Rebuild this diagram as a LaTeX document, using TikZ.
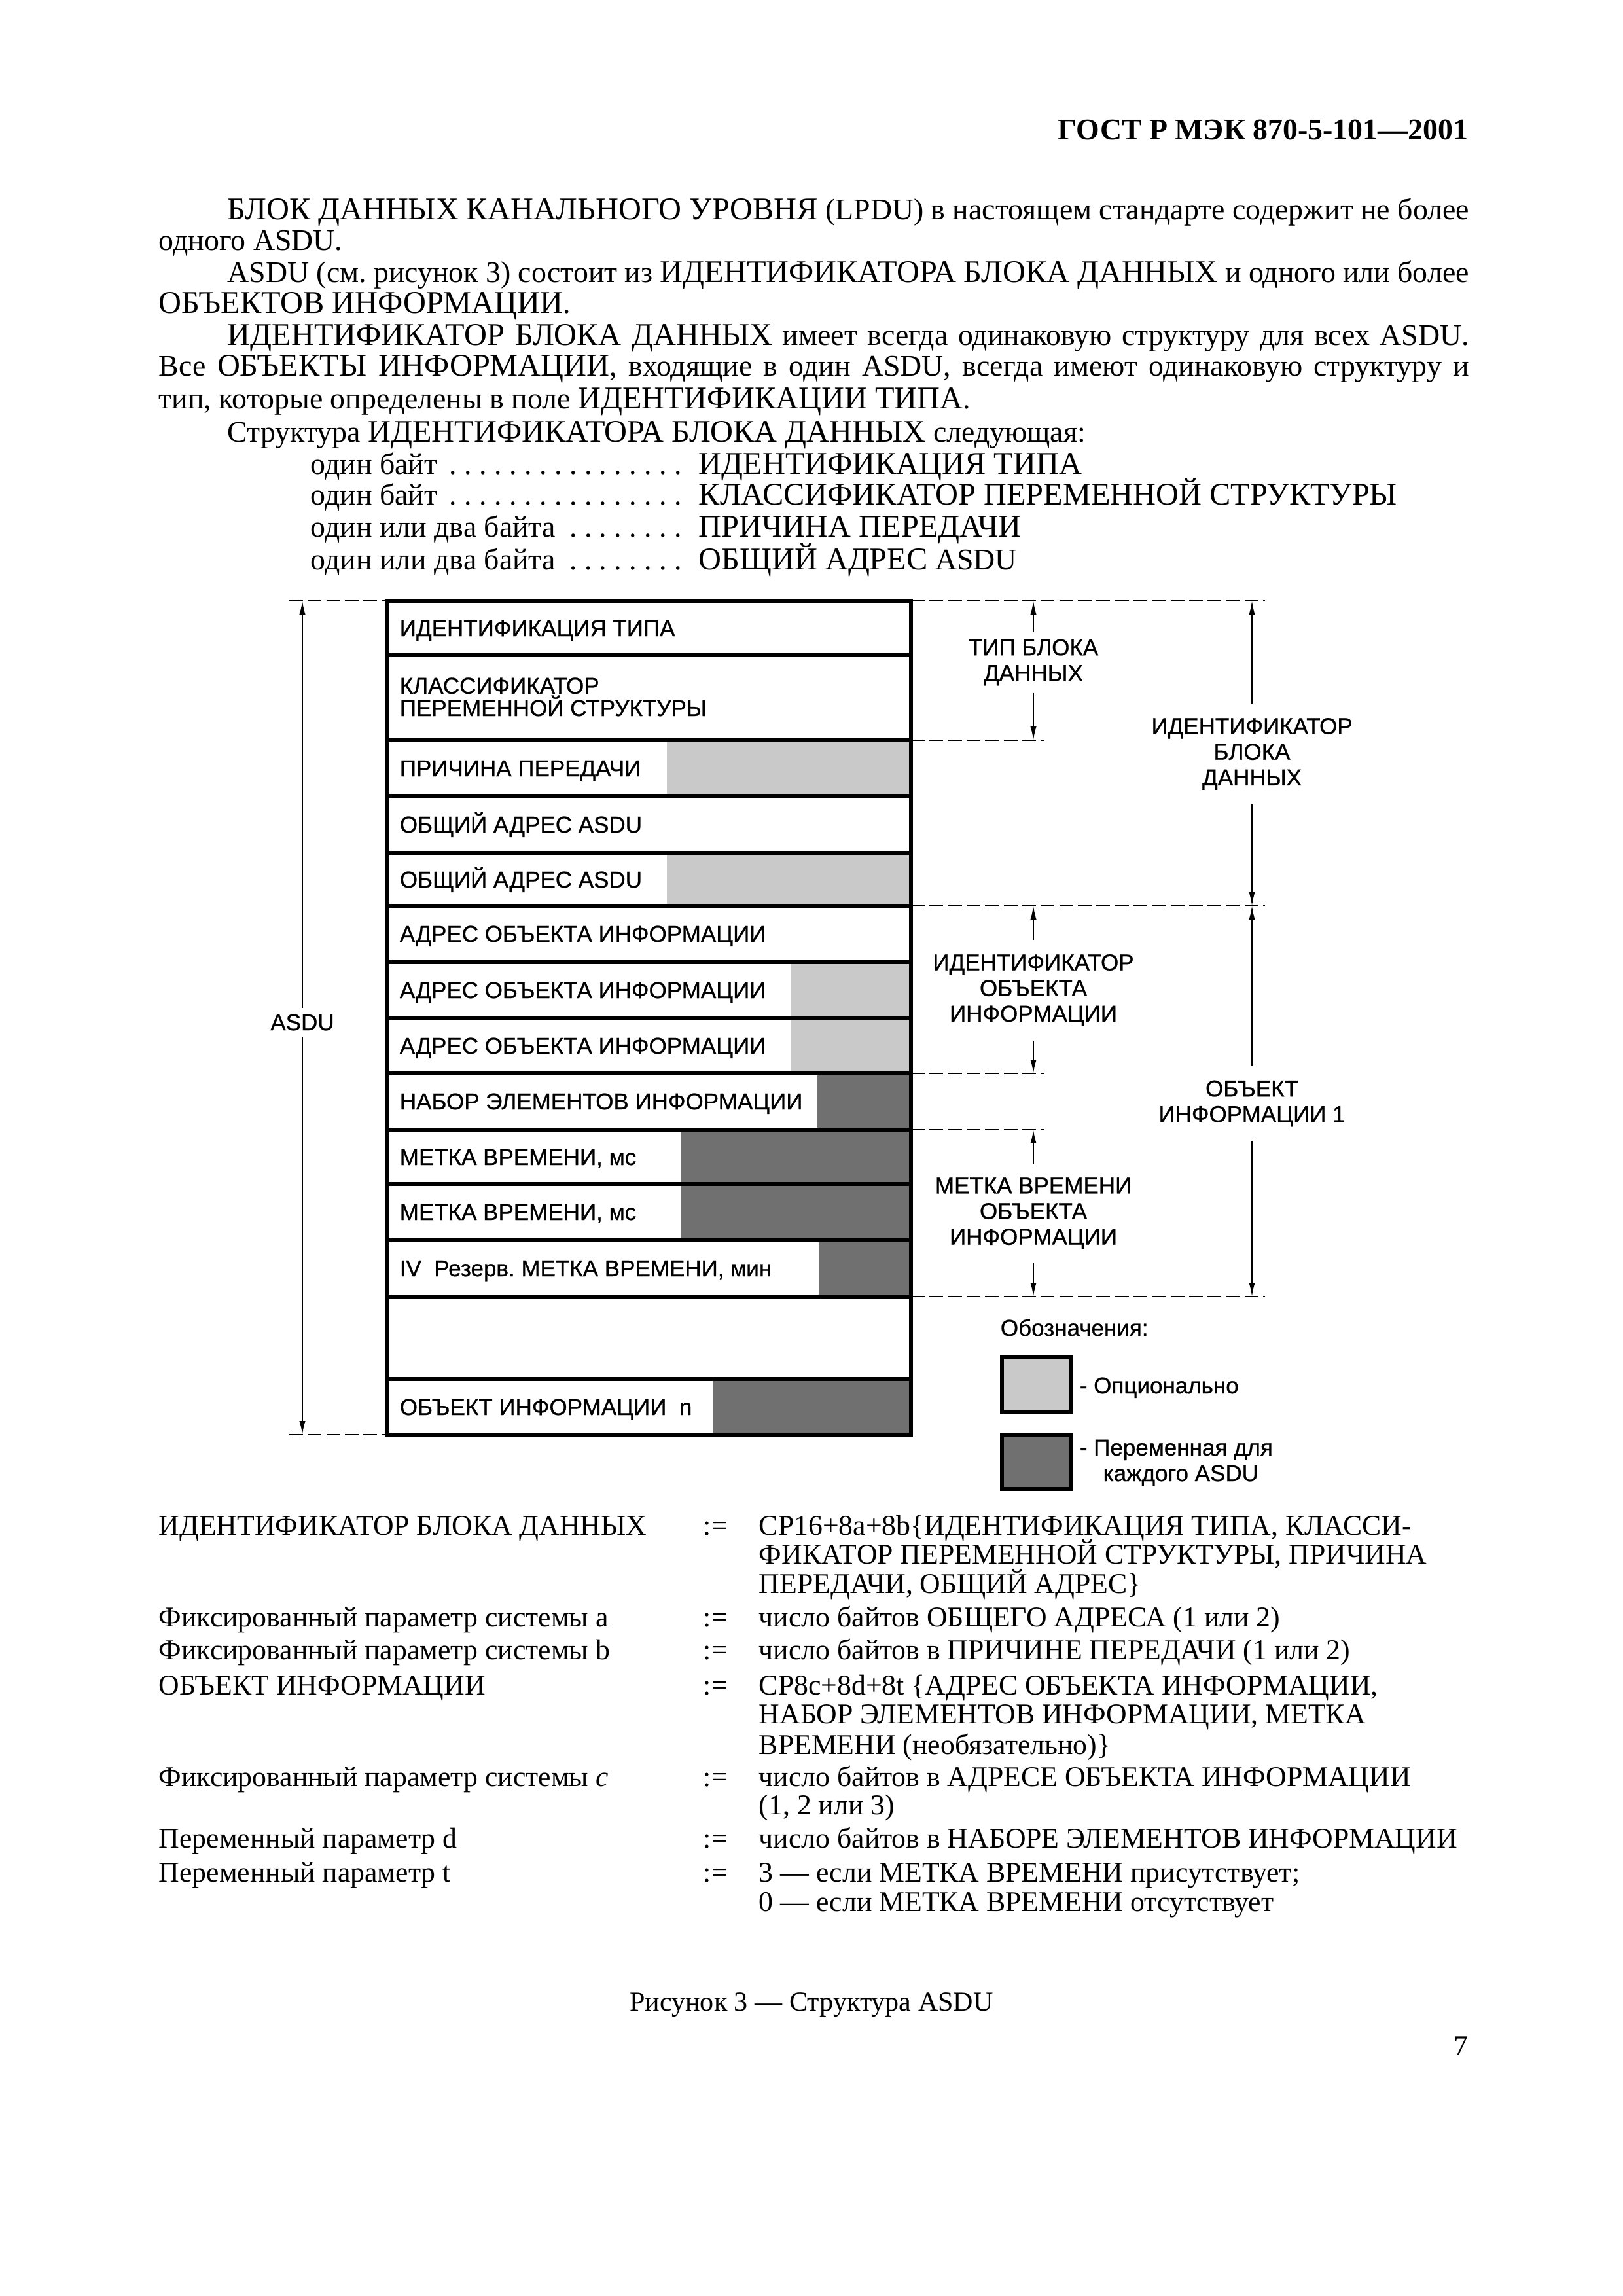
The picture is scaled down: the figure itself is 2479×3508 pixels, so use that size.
\documentclass[tikz,border=0pt]{standalone}
\usepackage{fontspec}
\setmainfont{Liberation Serif}
\newfontfamily\arialf[FakeBold=0.7]{Liberation Sans}
\usetikzlibrary{arrows.meta}
\definecolor{optgray}{gray}{0.79}
\definecolor{vargray}{gray}{0.44}
\newcommand{\dotlead}[1]{\makebox[138pt][l]{#1\leaders\hbox to 0.5em{\hss.\hss}\hfill\mbox{}}}
\newcommand{\CP}[1]{{\fontsize{11.6}{13}\selectfont #1}}
\frenchspacing
\begin{document}
\begin{tikzpicture}[x=0.24pt,y=-0.24pt,
  body/.style={anchor=base west, inner sep=0pt, font=\fontsize{11}{13}\selectfont},
  btxt/.style={anchor=base west, inner sep=0pt, font=\fontsize{10.5}{12}\selectfont},
  boxtxt/.style={anchor=base west, inner sep=0pt, font=\arialf\fontsize{8.4}{8.2}\selectfont, align=left},
  lbl/.style={font=\arialf\fontsize{8.4}{9.4}\selectfont, align=center, inner xsep=1pt, inner ysep=2.5pt},
  frame/.style={line width=1.45pt},
  dashln/.style={dash pattern=on 5pt off 1.8pt, line width=0.6pt},
  dimarrow/.style={-{Latex[length=5pt,width=2.2pt]}, line width=0.45pt},
  optfill/.style={fill=optgray},
  varfill/.style={fill=vargray}]
\useasboundingbox[fill=white] (0,0) rectangle (2479,3508);

% header
\node[anchor=base east, inner sep=0pt, font=\bfseries\fontsize{11}{13}\selectfont] (hdr) at (2244,214) {ГОСТ Р МЭК 870-5-101—2001};

% body text
\node[body] (l1) at (347,336) {\makebox[455.3pt][s]{\CP{БЛОК ДАННЫХ КАНАЛЬНОГО УРОВНЯ} (LPDU) в настоящем стандарте содержит не более}};
\node[body] (l2) at (242,383) {одного ASDU.};
\node[body] (l3) at (347,432) {\makebox[455.3pt][s]{ASDU (см. рисунок 3) состоит из \CP{ИДЕНТИФИКАТОРА БЛОКА ДАННЫХ} и одного или более}};
\node[body] (l4) at (242,479) {\CP{ОБЪЕКТОВ ИНФОРМАЦИИ}.};
\node[body] (l5) at (347,528) {\makebox[455.3pt][s]{\CP{ИДЕНТИФИКАТОР БЛОКА ДАННЫХ} имеет всегда одинаковую структуру для всех ASDU.}};
\node[body] (l6) at (242,575) {\makebox[480.5pt][s]{Все \CP{ОБЪЕКТЫ ИНФОРМАЦИИ}, входящие в один ASDU, всегда имеют одинаковую структуру и}};
\node[body] (l7) at (242,625) {тип, которые определены в поле \CP{ИДЕНТИФИКАЦИИ ТИПА}.};
\node[body] (l8) at (347,676) {Структура \CP{ИДЕНТИФИКАТОРА БЛОКА ДАННЫХ} следующая:};
\node[body] (l9a) at (474,725) {\dotlead{один байт}};
\node[body] (l9b) at (1067,725) {\CP{ИДЕНТИФИКАЦИЯ ТИПА}};
\node[body] (l10a) at (474,772) {\dotlead{один байт}};
\node[body] (l10b) at (1067,772) {\CP{КЛАССИФИКАТОР ПЕРЕМЕННОЙ СТРУКТУРЫ}};
\node[body] (l11a) at (474,821) {\dotlead{один или два байта}};
\node[body] (l11b) at (1067,821) {\CP{ПРИЧИНА ПЕРЕДАЧИ}};
\node[body] (l12a) at (474,871) {\dotlead{один или два байта}};
\node[body] (l12b) at (1067,871) {\CP{ОБЩИЙ АДРЕС} ASDU};

% shaded parts
\fill[optfill] (1019,1131) rectangle (1392,1216);
\fill[optfill] (1019,1303) rectangle (1392,1384);
\fill[optfill] (1208,1470) rectangle (1392,1556);
\fill[optfill] (1208,1556) rectangle (1392,1640);
\fill[varfill] (1249,1640) rectangle (1392,1726);
\fill[varfill] (1040,1726) rectangle (1392,1809);
\fill[varfill] (1040,1809) rectangle (1392,1895);
\fill[varfill] (1251,1895) rectangle (1392,1981);
\fill[varfill] (1089,2107) rectangle (1392,2192);

% frame
\draw[frame] (591,918) rectangle (1392,2192);
\foreach \yy in {1001,1131,1216,1303,1384,1470,1556,1640,1726,1809,1895,1981,2107}
  \draw[frame] (591,\yy) -- (1392,\yy);

% row texts
\node[boxtxt] (t1) at (610,972) {ИДЕНТИФИКАЦИЯ ТИПА};
\node[boxtxt] (t2) at (610,1094) {КЛАССИФИКАТОР\\ПЕРЕМЕННОЙ СТРУКТУРЫ};
\node[boxtxt] (t3) at (610,1186) {ПРИЧИНА ПЕРЕДАЧИ};
\node[boxtxt] (t4) at (610,1272) {ОБЩИЙ АДРЕС ASDU};
\node[boxtxt] (t5) at (610,1356) {ОБЩИЙ АДРЕС ASDU};
\node[boxtxt] (t6) at (610,1439) {АДРЕС ОБЪЕКТА ИНФОРМАЦИИ};
\node[boxtxt] (t7) at (610,1525) {АДРЕС ОБЪЕКТА ИНФОРМАЦИИ};
\node[boxtxt] (t8) at (610,1610) {АДРЕС ОБЪЕКТА ИНФОРМАЦИИ};
\node[boxtxt] (t9) at (610,1695) {НАБОР ЭЛЕМЕНТОВ ИНФОРМАЦИИ};
\node[boxtxt] (t10) at (610,1780) {МЕТКА ВРЕМЕНИ, мс};
\node[boxtxt] (t11) at (610,1864) {МЕТКА ВРЕМЕНИ, мс};
\node[boxtxt] (t12) at (610,1950) {IV\ \ Резерв. МЕТКА ВРЕМЕНИ, мин};
\node[boxtxt] (t14) at (610,2162) {ОБЪЕКТ ИНФОРМАЦИИ\ \ n};

% ASDU dimension (left)
\draw[dashln] (442,918) -- (591,918);
\draw[dashln] (442,2192) -- (591,2192);
\coordinate (aT) at (462,918);
\coordinate (aB) at (462,2192);
\node[font=\arialf\fontsize{8.4}{9}\selectfont, inner xsep=1pt, inner ysep=2pt] (asdu) at (462,1562) {ASDU};
\draw[dimarrow] (asdu.north) -- (aT);
\draw[dimarrow] (asdu.south) -- (aB);

% right dashed lines
\draw[dashln] (1392,918) -- (1933,918);
\draw[dashln] (1392,1131) -- (1596,1131);
\draw[dashln] (1392,1384) -- (1933,1384);
\draw[dashln] (1392,1640) -- (1596,1640);
\draw[dashln] (1392,1726) -- (1596,1726);
\draw[dashln] (1392,1981) -- (1933,1981);

% inner dimension arrows
\coordinate (i1T) at (1579,918);
\coordinate (i1B) at (1579,1131);
\node[lbl] (tip) at (1579,1012) {ТИП БЛОКА\\ДАННЫХ};
\draw[dimarrow] (tip.north) -- (i1T);
\draw[dimarrow] (tip.south) -- (i1B);

\coordinate (i2T) at (1579,1384);
\coordinate (i2B) at (1579,1640);
\node[lbl, inner ysep=5pt] (ido) at (1579,1513) {ИДЕНТИФИКАТОР\\ОБЪЕКТА\\ИНФОРМАЦИИ};
\draw[dimarrow] (ido.north) -- (i2T);
\draw[dimarrow] (ido.south) -- (i2B);

\coordinate (i3T) at (1579,1726);
\coordinate (i3B) at (1579,1981);
\node[lbl, inner ysep=5pt] (mvo) at (1579,1854) {МЕТКА ВРЕМЕНИ\\ОБЪЕКТА\\ИНФОРМАЦИИ};
\draw[dimarrow] (mvo.north) -- (i3T);
\draw[dimarrow] (mvo.south) -- (i3B);

% outer dimension arrows
\coordinate (o1T) at (1913,918);
\coordinate (o1B) at (1913,1384);
\node[lbl, inner ysep=5pt] (ibd) at (1913,1152) {ИДЕНТИФИКАТОР\\БЛОКА\\ДАННЫХ};
\draw[dimarrow] (ibd.north) -- (o1T);
\draw[dimarrow] (ibd.south) -- (o1B);

\coordinate (o2T) at (1913,1384);
\coordinate (o2B) at (1913,1981);
\node[lbl, inner ysep=5pt] (oi1) at (1913,1686) {ОБЪЕКТ\\ИНФОРМАЦИИ 1};
\draw[dimarrow] (oi1.north) -- (o2T);
\draw[dimarrow] (oi1.south) -- (o2B);

% legend
\node[boxtxt] (leg) at (1528,2041) {Обозначения:};
\draw[frame, optfill] (1531,2073) rectangle (1637,2158);
\draw[frame, varfill] (1531,2193) rectangle (1637,2275);
\node[boxtxt] (lego) at (1649,2129) {- Опционально};
\node[boxtxt] (legv) at (1649,2263) {- Переменная для\\[1.2pt]\hspace*{8.6pt}каждого ASDU};

% definitions
\node[btxt] (d1l) at (242,2345) {ИДЕНТИФИКАТОР БЛОКА ДАННЫХ};
\node[btxt] (d1e) at (1074,2345) {:=};
\node[btxt] (d1r) at (1159,2345) {CP16+8a+8b\{ИДЕНТИФИКАЦИЯ ТИПА, КЛАССИ-};
\node[btxt] (d1r2) at (1159,2389) {ФИКАТОР ПЕРЕМЕННОЙ СТРУКТУРЫ, ПРИЧИНА};
\node[btxt] (d1r3) at (1159,2434) {ПЕРЕДАЧИ, ОБЩИЙ АДРЕС\}};

\node[btxt] (d2l) at (242,2485) {Фиксированный параметр системы a};
\node[btxt] (d2e) at (1074,2485) {:=};
\node[btxt] (d2r) at (1159,2485) {число байтов ОБЩЕГО АДРЕСА (1 или 2)};

\node[btxt] (d3l) at (242,2535) {Фиксированный параметр системы b};
\node[btxt] (d3e) at (1074,2535) {:=};
\node[btxt] (d3r) at (1159,2535) {число байтов в ПРИЧИНЕ ПЕРЕДАЧИ (1 или 2)};

\node[btxt] (d4l) at (242,2589) {ОБЪЕКТ ИНФОРМАЦИИ};
\node[btxt] (d4e) at (1074,2589) {:=};
\node[btxt] (d4r) at (1159,2589) {CP8c+8d+8t \{АДРЕС ОБЪЕКТА ИНФОРМАЦИИ,};
\node[btxt] (d4r2) at (1159,2633) {НАБОР ЭЛЕМЕНТОВ ИНФОРМАЦИИ, МЕТКА};
\node[btxt] (d4r3) at (1159,2680) {ВРЕМЕНИ (необязательно)\}};

\node[btxt] (d5l) at (242,2729) {Фиксированный параметр системы \textit{c}};
\node[btxt] (d5e) at (1074,2729) {:=};
\node[btxt] (d5r) at (1159,2729) {число байтов в АДРЕСЕ ОБЪЕКТА ИНФОРМАЦИИ};
\node[btxt] (d5r2) at (1159,2772) {(1, 2 или 3)};

\node[btxt] (d6l) at (242,2823) {Переменный параметр d};
\node[btxt] (d6e) at (1074,2823) {:=};
\node[btxt] (d6r) at (1159,2823) {число байтов в НАБОРЕ ЭЛЕМЕНТОВ ИНФОРМАЦИИ};

\node[btxt] (d7l) at (242,2875) {Переменный параметр t};
\node[btxt] (d7e) at (1074,2875) {:=};
\node[btxt] (d7r) at (1159,2875) {3 — если МЕТКА ВРЕМЕНИ присутствует;};
\node[btxt] (d7r2) at (1159,2920) {0 — если МЕТКА ВРЕМЕНИ отсутствует};

% caption and page number
\node[anchor=base, inner sep=0pt, font=\fontsize{10.1}{12}\selectfont] (cap) at (1240,3072) {Рисунок 3 — Структура ASDU};
\node[anchor=base east, inner sep=0pt, font=\fontsize{10.5}{12}\selectfont] (pg) at (2244,3140) {7};
\end{tikzpicture}
\end{document}
